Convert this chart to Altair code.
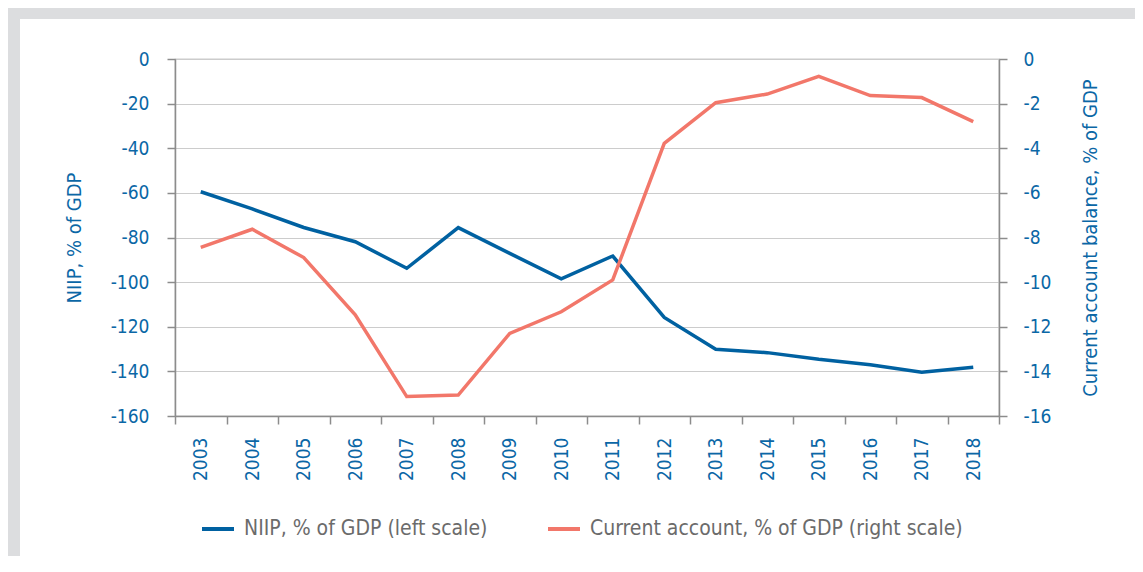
import altair as alt
import pandas as pd

years = [str(y) for y in range(2003, 2019)]
niip = [-59.5, -67.2, -75.5, -81.9, -93.8, -75.6, -87.1, -98.5, -88.3,
        -115.8, -130.1, -131.6, -134.6, -137.0, -140.4, -138.1]
ca = [-8.44, -7.63, -8.9, -11.47, -15.13, -15.06, -12.3, -11.33, -9.9,
      -3.78, -1.96, -1.57, -0.78, -1.64, -1.73, -2.81]
series_names = ["NIIP, % of GDP (left scale)", "Current account, % of GDP (right scale)"]
left_ticks = list(range(-160, 1, 20))
right_ticks = list(range(-16, 1, 2))

BLUE = "#0061a1"
RED = "#f2776a"
TXT = "#0b67a6"
AXC = "#8c8c8c"
FONT = "DejaVu Sans Condensed, DejaVu Sans"

df_niip = pd.DataFrame({"year": years, "value": niip, "series": series_names[0]})
df_ca = pd.DataFrame({"year": years, "value": ca, "series": series_names[1]})

x_enc = alt.X(
    "year:O",
    scale=alt.Scale(type="band", paddingInner=0, paddingOuter=0),
    bandPosition=0.5,
    axis=alt.Axis(title=None, labelAngle=270, tickBand="extent", tickSize=8,
                  labelPadding=13, grid=False, domainColor=AXC, tickColor=AXC,
                  domainWidth=1.5, tickWidth=1.5,
                  labelColor=TXT, labelFontSize=19, labelFont=FONT),
)

color_enc = alt.Color(
    "series:N",
    scale=alt.Scale(domain=series_names, range=[BLUE, RED]),
    legend=alt.Legend(title=None, orient="none", legendX=25, legendY=452,
                      direction="horizontal", symbolType="stroke",
                      symbolStrokeWidth=4, symbolSize=1024, labelFontSize=21,
                      labelColor="#6b6b6b", labelFont=FONT, columnPadding=52,
                      labelOffset=8, labelLimit=0),
)

left = alt.Chart(df_niip).mark_line(strokeWidth=3.5).encode(
    x=x_enc,
    y=alt.Y("value:Q",
            scale=alt.Scale(domain=[-160, 0], nice=False, zero=False),
            axis=alt.Axis(values=left_ticks, title="NIIP, % of GDP", orient="left",
                          labelExpr="toString(datum.value)",
                          grid=True, gridColor="#cccccc", gridWidth=1.2,
                          tickSize=8, labelPadding=18, titlePadding=26,
                          domainColor=AXC, tickColor=AXC, domainWidth=1.5, tickWidth=1.5,
                          labelColor=TXT, labelFontSize=19, labelFont=FONT,
                          titleColor=TXT, titleFontSize=20, titleFont=FONT,
                          titleFontWeight="normal")),
    color=color_enc,
)

right = alt.Chart(df_ca).mark_line(strokeWidth=3.5).encode(
    x=x_enc,
    y=alt.Y("value:Q",
            scale=alt.Scale(domain=[-16, 0], nice=False, zero=False),
            axis=alt.Axis(values=right_ticks, title="Current account balance, % of GDP",
                          orient="right", grid=False, tickSize=8, labelPadding=16,
                          labelExpr="toString(datum.value)",
                          titlePadding=30, titleAngle=270, titleBaseline="top",
                          domainColor=AXC, tickColor=AXC, domainWidth=1.5, tickWidth=1.5,
                          labelColor=TXT, labelFontSize=19, labelFont=FONT,
                          titleColor=TXT, titleFontSize=20, titleFont=FONT,
                          titleFontWeight="normal")),
    color=color_enc,
)

frame_data = alt.Data(values=[{"k": 1}])
top_band = alt.Chart(frame_data).mark_rect(color="#dcdddf").encode(
    x=alt.value(-167), x2=alt.value(960), y=alt.value(-51), y2=alt.value(-40))
left_band = alt.Chart(frame_data).mark_rect(color="#dcdddf").encode(
    x=alt.value(-167), x2=alt.value(-155), y=alt.value(-51), y2=alt.value(497))

lines = alt.layer(left, right).resolve_scale(y="independent")

chart = alt.layer(top_band, left_band, lines).properties(
    width=824, height=357,
    padding={"left": 0, "top": 0, "right": 0, "bottom": 0},
).configure(background="white").configure_view(stroke="#999999", strokeWidth=1.2)

chart.save("out.html", embed_options={"renderer": "svg", "actions": False})
